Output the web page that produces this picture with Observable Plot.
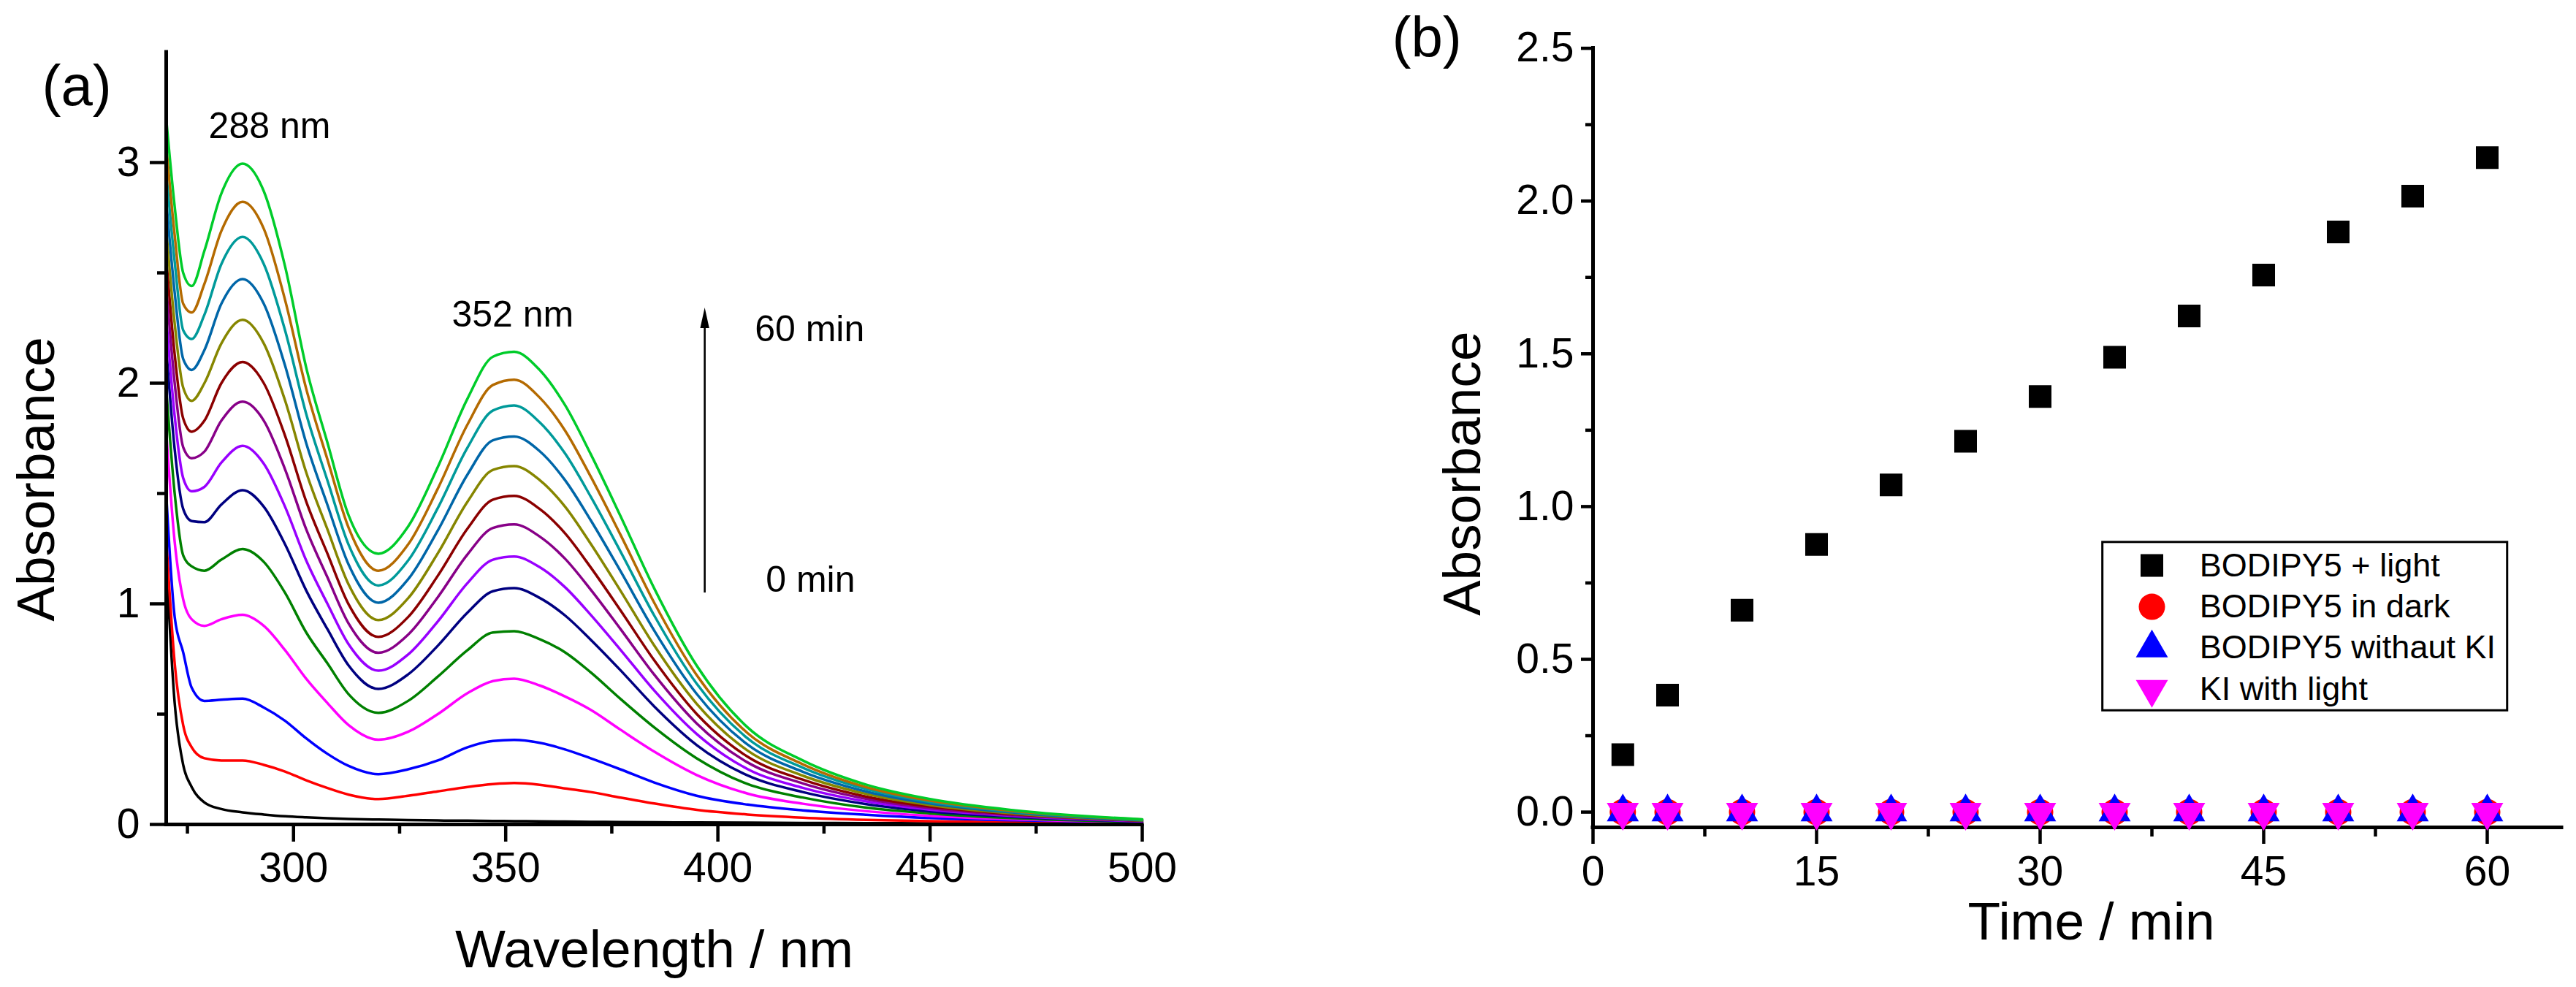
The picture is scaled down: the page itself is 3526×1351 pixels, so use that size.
<!DOCTYPE html>
<html>
<head>
<meta charset="utf-8">
<script src="https://cdn.jsdelivr.net/npm/d3@7"></script>
<script src="https://cdn.jsdelivr.net/npm/@observablehq/plot@0.6"></script>
<style>
  html, body { margin: 0; padding: 0; background: #fff; }
  #fig { position: relative; width: 3526px; height: 1351px; background: #fff; }
  #fig > div { position: absolute; top: 0; }
</style>
</head>
<body>
<div id="fig"><div id="panelA" style="left:0"></div><div id="panelB" style="left:1750px"></div></div>
<script>
// ---------- (a) UV-vis spectra recorded during irradiation ----------
const wavelengths = [270, 272, 274, 276, 279, 283, 288, 293, 298, 303, 308, 313, 320, 327, 334, 341, 347, 352, 358, 364, 370, 377, 385, 395, 407, 420, 435, 450, 470, 500];
const spectrumTimes = [0, 2, 5, 10, 15, 20, 25, 30, 35, 40, 45, 50, 55, 60];
const lineColors = ["#000000", "#ff0000", "#0000ff", "#ff00ff", "#008000", "#000080", "#9900ff", "#880088", "#8b0000", "#868600", "#0066a8", "#009a9a", "#b46a00", "#00cc2a"];
const spectra = [
  [1.20, 0.55, 0.27, 0.17, 0.10, 0.07, 0.055, 0.045, 0.037, 0.032, 0.028, 0.025, 0.022, 0.020, 0.018, 0.017, 0.016, 0.015, 0.014, 0.013, 0.012, 0.011, 0.010, 0.009, 0.008, 0.007, 0.006, 0.005, 0.004, 0.003],
  [1.30, 0.73, 0.45, 0.35, 0.30, 0.29, 0.29, 0.27, 0.24, 0.20, 0.165, 0.135, 0.115, 0.13, 0.15, 0.17, 0.183, 0.188, 0.18, 0.163, 0.147, 0.122, 0.095, 0.066, 0.045, 0.031, 0.021, 0.015, 0.010, 0.005],
  [1.50, 0.94, 0.78, 0.62, 0.56, 0.565, 0.57, 0.53, 0.47, 0.39, 0.32, 0.265, 0.228, 0.25, 0.29, 0.35, 0.378, 0.383, 0.37, 0.34, 0.30, 0.25, 0.19, 0.13, 0.09, 0.064, 0.044, 0.029, 0.019, 0.009],
  [1.78, 1.28, 1.02, 0.93, 0.90, 0.93, 0.95, 0.90, 0.79, 0.66, 0.55, 0.45, 0.384, 0.42, 0.50, 0.595, 0.65, 0.661, 0.63, 0.58, 0.52, 0.43, 0.33, 0.224, 0.14, 0.094, 0.06, 0.039, 0.023, 0.009],
  [1.98, 1.50, 1.22, 1.17, 1.15, 1.20, 1.248, 1.19, 1.05, 0.87, 0.73, 0.59, 0.506, 0.56, 0.67, 0.79, 0.87, 0.876, 0.84, 0.78, 0.69, 0.57, 0.44, 0.30, 0.183, 0.122, 0.076, 0.05, 0.028, 0.011],
  [2.16, 1.70, 1.43, 1.375, 1.37, 1.45, 1.515, 1.44, 1.27, 1.06, 0.885, 0.72, 0.614, 0.68, 0.81, 0.96, 1.057, 1.071, 1.027, 0.947, 0.838, 0.70, 0.535, 0.36, 0.222, 0.147, 0.092, 0.059, 0.034, 0.013],
  [2.30, 1.85, 1.57, 1.51, 1.53, 1.64, 1.716, 1.635, 1.44, 1.196, 1.00, 0.816, 0.697, 0.77, 0.92, 1.094, 1.20, 1.214, 1.166, 1.075, 0.951, 0.793, 0.607, 0.41, 0.251, 0.166, 0.104, 0.067, 0.038, 0.014],
  [2.44, 2.00, 1.71, 1.66, 1.69, 1.83, 1.916, 1.83, 1.61, 1.337, 1.12, 0.91, 0.778, 0.86, 1.03, 1.224, 1.344, 1.36, 1.305, 1.204, 1.065, 0.887, 0.679, 0.458, 0.281, 0.186, 0.116, 0.074, 0.042, 0.016],
  [2.57, 2.13, 1.84, 1.78, 1.83, 2.00, 2.096, 2.00, 1.762, 1.463, 1.227, 0.997, 0.85, 0.94, 1.127, 1.341, 1.472, 1.489, 1.43, 1.319, 1.166, 0.972, 0.744, 0.501, 0.307, 0.203, 0.126, 0.081, 0.046, 0.017],
  [2.70, 2.27, 1.98, 1.92, 2.00, 2.18, 2.287, 2.18, 1.922, 1.595, 1.337, 1.087, 0.926, 1.025, 1.229, 1.463, 1.607, 1.624, 1.561, 1.44, 1.273, 1.061, 0.811, 0.547, 0.335, 0.221, 0.138, 0.088, 0.049, 0.018],
  [2.83, 2.41, 2.11, 2.06, 2.15, 2.36, 2.472, 2.36, 2.08, 1.728, 1.448, 1.177, 1.005, 1.111, 1.332, 1.586, 1.741, 1.758, 1.692, 1.56, 1.38, 1.15, 0.879, 0.592, 0.362, 0.239, 0.149, 0.095, 0.053, 0.019],
  [2.96, 2.55, 2.24, 2.20, 2.31, 2.54, 2.663, 2.54, 2.24, 1.86, 1.559, 1.267, 1.083, 1.196, 1.434, 1.708, 1.876, 1.899, 1.823, 1.681, 1.487, 1.239, 0.947, 0.638, 0.39, 0.257, 0.16, 0.102, 0.057, 0.021],
  [3.08, 2.67, 2.36, 2.32, 2.45, 2.69, 2.822, 2.70, 2.378, 1.974, 1.654, 1.344, 1.15, 1.269, 1.522, 1.813, 1.992, 2.016, 1.935, 1.785, 1.578, 1.315, 1.005, 0.677, 0.414, 0.273, 0.169, 0.108, 0.06, 0.022],
  [3.20, 2.80, 2.50, 2.44, 2.60, 2.86, 2.995, 2.87, 2.53, 2.07, 1.73, 1.40, 1.227, 1.35, 1.62, 1.93, 2.12, 2.142, 2.06, 1.90, 1.68, 1.40, 1.07, 0.72, 0.44, 0.29, 0.18, 0.115, 0.064, 0.023]
];
const waveTicks = [300, 350, 400, 450, 500];
const waveMinorTicks = [275, 325, 375, 425, 475];
const absTicksA = [0, 1, 2, 3];
const absMinorTicksA = [0.5, 1.5, 2.5];
const peakNotes = [
  {label: "288 nm", w: 280, a: 3.11},
  {label: "352 nm", w: 337.3, a: 2.256}
];
const timeNotes = [
  {label: "60 min", w: 408.7, a: 2.19},
  {label: "0 min", w: 411.3, a: 1.053}
];
const growthArrow = {w: 396.9, from: 1.05, to: 2.25};

// ---------- (b) absorbance at 352 nm versus time ----------
const kineticTimes = [2, 5, 10, 15, 20, 25, 30, 35, 40, 45, 50, 55, 60];
const withLight = [0.188, 0.383, 0.661, 0.876, 1.071, 1.214, 1.36, 1.489, 1.624, 1.758, 1.899, 2.016, 2.142];
const inDark = [0, 0, 0, 0, 0, 0, 0, 0, 0, 0, 0, 0, 0];
const withoutKI = [0, 0, 0, 0, 0, 0, 0, 0, 0, 0, 0, 0, 0];
const kiWithLight = [0, 0, 0, 0, 0, 0, 0, 0, 0, 0, 0, 0, 0];
const timeTicks = [0, 15, 30, 45, 60];
const timeMinorTicks = [7.5, 22.5, 37.5, 52.5];
const absTicksB = [0, 0.5, 1, 1.5, 2, 2.5];
const absMinorTicksB = [0.25, 0.75, 1.25, 1.75, 2.25];
const legendLabels = ["BODIPY5 + light", "BODIPY5 in dark", "BODIPY5 withaut KI", "KI with light"];

const FONT = "'Liberation Sans', Arial, Helvetica, sans-serif";
const AXIS_W = 5;

// Narrow filled arrowhead pointing up, anchored at its base.
const arrowHead = {
  draw(ctx, size) {
    const h = Math.sqrt(size);
    ctx.moveTo(0, -h);
    ctx.lineTo(h * 0.22, 0);
    ctx.lineTo(-h * 0.22, 0);
    ctx.closePath();
  }
};

const spectraRows = spectrumTimes.flatMap((t, i) => wavelengths.map((w, j) => ({t, w, a: spectra[i][j]})));

const panelA = Plot.plot({
  width: 1750,
  height: 1351,
  marginLeft: 227,
  marginRight: 187,
  marginTop: 71,
  marginBottom: 223,
  style: {fontFamily: FONT, fontSize: "57px", background: "white", color: "black", overflow: "visible"},
  x: {domain: [270, 500], label: null},
  y: {domain: [0, 3.5], label: null},
  color: {type: "ordinal", domain: spectrumTimes, range: lineColors},
  marks: [
    Plot.line(spectraRows, {x: "w", y: "a", z: "t", stroke: "t", strokeWidth: 3.5, curve: "monotone-x"}),
    Plot.ruleY([0], {strokeWidth: AXIS_W, strokeLinecap: "square"}),
    Plot.ruleX([270], {strokeWidth: AXIS_W, strokeLinecap: "square"}),
    Plot.axisX({ticks: waveTicks, tickSize: 24, tickPadding: 14, strokeWidth: 4.5, tickFormat: "d", label: null}),
    Plot.axisX({ticks: waveMinorTicks, tickSize: 13, strokeWidth: 4.5, tickFormat: () => "", label: null}),
    Plot.axisY({ticks: absTicksA, tickSize: 22, tickPadding: 14, strokeWidth: 4.5, tickFormat: "d", label: null}),
    Plot.axisY({ticks: absMinorTicksA, tickSize: 12, strokeWidth: 4.5, tickFormat: () => "", label: null}),
    Plot.text(peakNotes, {x: "w", y: "a", text: "label", textAnchor: "start", lineAnchor: "bottom", fontSize: 50}),
    Plot.text(timeNotes, {x: "w", y: "a", text: "label", textAnchor: "start", lineAnchor: "bottom", fontSize: 50}),
    Plot.ruleX([growthArrow], {x: "w", y1: "from", y2: "to", strokeWidth: 2.6}),
    Plot.dot([growthArrow], {x: "w", y: "to", symbol: arrowHead, r: 15.8, fill: "black", stroke: "none"}),
    Plot.text(["Absorbance"], {frameAnchor: "left", text: d => d, rotate: -90, textAnchor: "middle", lineAnchor: "bottom", dx: -154, dy: 56, fontSize: 73}),
    Plot.text(["Wavelength / nm"], {frameAnchor: "bottom", text: d => d, textAnchor: "middle", lineAnchor: "bottom", dy: 195, fontSize: 73}),
    Plot.text(["(a)"], {frameAnchor: "top-left", text: d => d, textAnchor: "start", lineAnchor: "bottom", dx: -170, dy: 72, fontSize: 78})
  ]
});
document.getElementById("panelA").append(panelA);

const kinetics = (values) => kineticTimes.map((t, i) => ({t, a: values[i]}));
const legendStep = 0.135;
const legendTop = 0.807;
const legendRows = legendLabels.map((label, i) => ({label, ly: legendTop - i * legendStep}));

const panelB = Plot.plot({
  width: 1776,
  height: 1351,
  marginLeft: 430,
  marginRight: 20,
  marginTop: 65.6,
  marginBottom: 219,
  style: {fontFamily: FONT, fontSize: "57px", background: "white", color: "black", overflow: "visible"},
  x: {domain: [0, 65], label: null},
  y: {domain: [-0.05, 2.5], label: null},
  marks: [
    Plot.ruleY([-0.05], {strokeWidth: AXIS_W, strokeLinecap: "square"}),
    Plot.ruleX([0], {strokeWidth: AXIS_W, strokeLinecap: "square"}),
    Plot.axisX({ticks: timeTicks, tickSize: 23, tickPadding: 16, strokeWidth: 4.5, tickFormat: "d", label: null}),
    Plot.axisX({ticks: timeMinorTicks, tickSize: 13, strokeWidth: 4.5, tickFormat: () => "", label: null}),
    Plot.axisY({ticks: absTicksB, tickSize: 16, tickPadding: 10, strokeWidth: 4.5, tickFormat: ".1f", label: null}),
    Plot.axisY({ticks: absMinorTicksB, tickSize: 10, strokeWidth: 4.5, tickFormat: () => "", label: null}),
    Plot.dot(kinetics(withLight), {x: "t", y: "a", symbol: "square", r: 17.5, fill: "#000000"}),
    Plot.dot(kinetics(inDark), {x: "t", y: "a", symbol: "circle", r: 18, fill: "#ff0000"}),
    Plot.dot(kinetics(withoutKI), {x: "t", y: "a", symbol: "triangle", r: 16.3, fill: "#0000ff"}),
    Plot.dot(kinetics(kiWithLight), {x: "t", y: "a", symbol: "triangle", rotate: 180, r: 16.3, fill: "#ff00ff"}),
    // legend box
    Plot.rect({length: 1}, {x1: 34.2, x2: 61.36, y1: 0.332, y2: 0.883, fill: "white", stroke: "black", strokeWidth: 3}),
    Plot.dot(legendRows.slice(0, 1), {x: 37.5, y: "ly", symbol: "square", r: 17.5, fill: "#000000"}),
    Plot.dot(legendRows.slice(1, 2), {x: 37.5, y: "ly", symbol: "circle", r: 18, fill: "#ff0000"}),
    Plot.dot(legendRows.slice(2, 3), {x: 37.5, y: "ly", symbol: "triangle", r: 16.3, fill: "#0000ff"}),
    Plot.dot(legendRows.slice(3, 4), {x: 37.5, y: "ly", symbol: "triangle", rotate: 180, r: 16.3, fill: "#ff00ff"}),
    Plot.text(legendRows, {x: 40.7, y: "ly", text: "label", textAnchor: "start", lineAnchor: "middle", fontSize: 45}),
    Plot.text(["Absorbance"], {frameAnchor: "left", text: d => d, rotate: -90, textAnchor: "middle", lineAnchor: "bottom", dx: -155, dy: 49, fontSize: 73}),
    Plot.text(["Time / min"], {frameAnchor: "bottom", text: d => d, textAnchor: "middle", lineAnchor: "bottom", dx: 19, dy: 153, fontSize: 73}),
    Plot.text(["(b)"], {frameAnchor: "top-left", text: d => d, textAnchor: "start", lineAnchor: "bottom", dx: -275, dy: 12, fontSize: 78})
  ]
});
document.getElementById("panelB").append(panelB);
</script>
</body>
</html>
